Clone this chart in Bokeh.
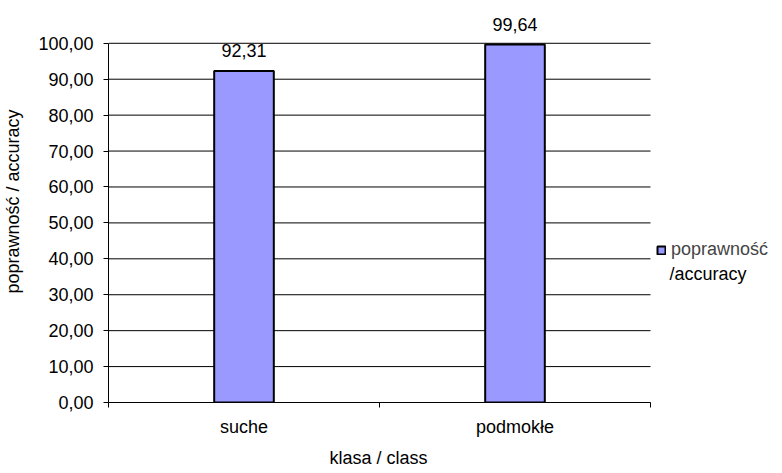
from bokeh.plotting import figure
from bokeh.models import (ColumnDataSource, FixedTicker, Range1d, Legend,
                          LegendItem, Label, Title)
from bokeh.core.properties import value
from bokeh.embed import file_html
from bokeh.resources import INLINE

# data
categories = ["suche", "podmokłe"]
accuracy = [92.31, 99.64]
y_ticks = [0, 10, 20, 30, 40, 50, 60, 70, 80, 90, 100]
y_tick_labels = [f"{t},00" for t in y_ticks]
series_name = "poprawność"
series_name_2 = "/accuracy"
x_title = "klasa / class"
y_title = "poprawność / accuracy"

FONT = "Liberation Sans"
BAR_FILL = "#9999FF"

# layout: the value axis 0..100 spans 361 px, the two category slots 542 px;
# the frame is larger than that so the value labels and the legend have room
W, H = 782, 473
LEFT, BOTTOM = 108, 69
SLOT_PX, VAL_PX = 542, 361
n = len(categories)
x_end = n * (W - LEFT) / SLOT_PX
y_end = 100 * (H - BOTTOM) / VAL_PX

# category i is centred at i + 0.5 on a numeric axis, so ticks can sit on the boundaries
xs = [i + 0.5 for i in range(n)]
value_labels = [f"{v:.2f}".replace(".", ",") for v in accuracy]
source = ColumnDataSource(data=dict(x=xs, top=accuracy, label=value_labels))

p = figure(width=W, height=H, output_backend="svg", toolbar_location=None,
           x_range=Range1d(0, x_end), y_range=Range1d(0, y_end),
           min_border_left=LEFT, min_border_right=0,
           min_border_top=0, min_border_bottom=BOTTOM)
p.outline_line_color = None
p.background_fill_color = "white"
p.border_fill_color = "white"

# horizontal grid lines across the category slots only
p.segment(x0=[0] * len(y_ticks), x1=[n] * len(y_ticks), y0=y_ticks, y1=y_ticks,
          line_color="black", line_width=1)

bars = p.vbar(x="x", top="top", width=0.22, bottom=0, source=source,
              fill_color=BAR_FILL, line_color="black", line_width=2)

p.text(x="x", y="top", text="label", source=source,
       text_align="center", text_baseline="middle", y_offset=-20,
       text_font=value(FONT), text_font_size="18px", text_color="black")

# x axis: category names at centres, small ticks on the category boundaries
p.xaxis.ticker = FixedTicker(ticks=xs, minor_ticks=list(range(n + 1)))
p.xaxis.bounds = (0, n)
p.xaxis.major_label_overrides = {x: c for x, c in zip(xs, categories)}
p.xaxis.major_tick_out = 0
p.xaxis.major_tick_in = 0
p.xaxis.minor_tick_out = 5
p.xaxis.minor_tick_in = 0
p.xaxis.minor_tick_line_color = "black"
p.xaxis.major_label_standoff = 9

# y axis with comma decimals
p.yaxis.ticker = FixedTicker(ticks=y_ticks, minor_ticks=[])
p.yaxis.bounds = (0, 100)
p.yaxis.major_label_overrides = {t: l for t, l in zip(y_ticks, y_tick_labels)}
p.yaxis.major_tick_out = 5
p.yaxis.major_tick_in = 0
p.yaxis.major_label_standoff = 10
p.yaxis.axis_label = y_title
p.yaxis.axis_label_standoff = 12

for ax in (p.xaxis[0], p.yaxis[0]):
    ax.axis_line_color = "black"
    ax.axis_line_width = 1
    ax.major_tick_line_color = "black"
    ax.major_label_text_font = FONT
    ax.major_label_text_font_size = "18px"
    ax.major_label_text_color = "black"
    ax.axis_label_text_font = FONT
    ax.axis_label_text_font_size = "18px"
    ax.axis_label_text_font_style = "normal"
    ax.axis_label_text_color = "black"

p.xgrid.grid_line_color = None
p.ygrid.grid_line_color = None

# x-axis title centred under the two category slots
p.add_layout(Title(text=x_title, align="left", offset=SLOT_PX / 2 - 50,
                   standoff=12, text_font=FONT, text_font_size="18px",
                   text_font_style="normal", text_color="black"), "below")

legend = Legend(items=[LegendItem(label=series_name, renderers=[bars])],
                location=(548, 142), glyph_width=10, glyph_height=10,
                label_text_font=FONT, label_text_font_size="18px",
                label_standoff=5, padding=0, margin=0,
                border_line_color=None, background_fill_alpha=0)
p.add_layout(legend)

p.add_layout(Label(x=n, y=0, x_offset=19, y_offset=129,
                   text=series_name_2, text_font=FONT, text_font_size="18px",
                   text_color="black", text_baseline="middle"))

open("out.html", "w").write(file_html(p, INLINE))
